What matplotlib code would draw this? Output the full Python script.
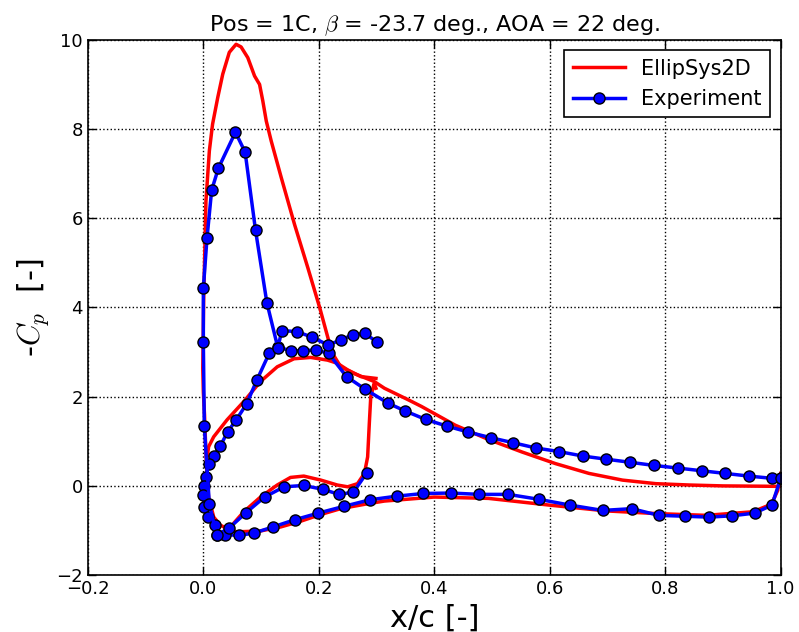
import numpy as np
import matplotlib
matplotlib.use('Agg')
from matplotlib import pyplot as plt

plt.rcParams['mathtext.fontset'] = 'cm'
plt.rcParams['xtick.direction'] = 'in'
plt.rcParams['ytick.direction'] = 'in'
plt.rcParams['xtick.top'] = True
plt.rcParams['ytick.right'] = True

# EllipSys2D, main element upper surface (LE, suction peak, down to trailing edge)
cfd_up_x = [0.006, 0.004, 0.002, 0.0, -0.001, 0.0005, 0.0045, 0.0104, 0.016, 0.025, 0.0336,
            0.045, 0.0567, 0.0654, 0.077, 0.0887, 0.0974, 0.103, 0.109, 0.1176, 0.135,
            0.158, 0.181, 0.2017, 0.216, 0.2237, 0.238, 0.261, 0.296, 0.3136, 0.355,
            0.378, 0.4365, 0.494, 0.552, 0.610, 0.668, 0.726, 0.784, 0.842, 0.9, 0.998]
cfd_up_y = [0.28, 0.9, 1.6, 2.1, 2.64, 4.13, 6.38, 7.51, 8.11, 8.71, 9.23,
            9.72, 9.90, 9.84, 9.60, 9.19, 9.00, 8.63, 8.18, 7.73, 6.91,
            5.86, 4.89, 3.99, 3.31, 2.97, 2.67, 2.52, 2.34, 2.19, 1.93,
            1.78, 1.36, 1.04, 0.76, 0.50, 0.28, 0.13, 0.05, 0.02, 0.0, -0.01]

# EllipSys2D, forward element loop (trailing edge -> upper -> LE -> lower -> TE)
cfd_loop_x = [0.299, 0.273, 0.250, 0.232, 0.215, 0.186, 0.157, 0.128, 0.099, 0.070,
              0.041, 0.0179, 0.0092, 0.006, 0.006, 0.009, 0.018, 0.0296, 0.041, 0.047,
              0.070, 0.099, 0.128, 0.151, 0.174, 0.2035, 0.232, 0.250, 0.267, 0.279,
              0.2846, 0.2875, 0.290, 0.296, 0.299]
cfd_loop_y = [2.41, 2.45, 2.60, 2.75, 2.82, 2.88, 2.85, 2.67, 2.34, 1.89,
              1.48, 1.10, 0.88, 0.6, 0.28, -0.25, -0.70, -0.88, -0.96, -0.92,
              -0.58, -0.25, 0.02, 0.19, 0.22, 0.13, 0.02, -0.02, 0.05, 0.28,
              0.65, 1.40, 2.0, 2.30, 2.19]

# EllipSys2D, main element lower surface
cfd_lo_x = [0.041, 0.058, 0.099, 0.134, 0.169, 0.2035, 0.238, 0.2846, 0.3136, 0.40,
            0.494, 0.599, 0.697, 0.784, 0.871, 0.952, 0.984, 0.995, 1.0]
cfd_lo_y = [-0.96, -1.03, -1.01, -0.92, -0.79, -0.64, -0.51, -0.40, -0.34, -0.25,
            -0.28, -0.43, -0.56, -0.62, -0.66, -0.58, -0.41, -0.1, 0.28]

# Experiment, main element (upper TE -> LE -> lower TE)
exp_main_x = [1.0, 0.985, 0.945, 0.904, 0.863, 0.822, 0.780, 0.739, 0.697, 0.657, 0.616,
              0.576, 0.536, 0.498, 0.458, 0.422, 0.385, 0.3496, 0.3205, 0.280, 0.248, 0.217,
              0.195, 0.173, 0.151, 0.130, 0.114, 0.093, 0.075, 0.057, 0.042, 0.0296, 0.018,
              0.009, 0.0045, 0.0005, 0.0, 0.0017, 0.0087, 0.021, 0.023, 0.038, 0.061, 0.087,
              0.1205, 0.158, 0.199, 0.243, 0.289, 0.335, 0.381, 0.429, 0.478, 0.528, 0.581,
              0.635, 0.692, 0.742, 0.789, 0.834, 0.876, 0.916, 0.955, 0.985, 1.0]
exp_main_y = [0.17, 0.17, 0.22, 0.28, 0.34, 0.40, 0.46, 0.53, 0.60, 0.67, 0.77,
              0.85, 0.97, 1.08, 1.21, 1.34, 1.49, 1.68, 1.85, 2.17, 2.45, 2.97,
              3.05, 3.03, 3.03, 3.11, 2.97, 2.38, 1.84, 1.48, 1.21, 0.90, 0.67,
              0.48, 0.20, 0.0, -0.21, -0.47, -0.70, -0.88, -1.11, -1.09, -1.11, -1.06,
              -0.92, -0.76, -0.61, -0.46, -0.31, -0.23, -0.17, -0.16, -0.19, -0.19, -0.30,
              -0.43, -0.55, -0.51, -0.66, -0.68, -0.70, -0.67, -0.61, -0.43, 0.17]

# Experiment, forward element (lower TE -> LE -> upper TE)
exp_fwd_x = [0.283, 0.260, 0.235, 0.208, 0.174, 0.140, 0.106, 0.074, 0.045, 0.023,
             0.0104, 0.0017, 0.0, 0.0, 0.0063, 0.0144, 0.026, 0.0556, 0.0724, 0.0904,
             0.110, 0.129, 0.136, 0.162, 0.189, 0.216, 0.238, 0.259, 0.280, 0.300]
exp_fwd_y = [0.29, -0.14, -0.19, -0.08, 0.01, -0.02, -0.25, -0.60, -0.94, -1.11,
             -0.41, 1.34, 3.22, 4.43, 5.55, 6.63, 7.12, 7.93, 7.48, 5.73,
             4.11, 3.10, 3.48, 3.46, 3.33, 3.16, 3.27, 3.39, 3.42, 3.23]

fig = plt.figure(figsize=(7.99, 6.32), dpi=100)
ax = fig.add_axes([0.110, 0.090, 0.867, 0.847])

ax.plot(cfd_up_x, cfd_up_y, 'r-', linewidth=2.5, label='EllipSys2D')
ax.plot(cfd_loop_x, cfd_loop_y, 'r-', linewidth=2.5)
ax.plot(cfd_lo_x, cfd_lo_y, 'r-', linewidth=2.5)

mk = dict(color='b', linewidth=2.5, marker='o', markersize=8,
          markerfacecolor='b', markeredgecolor='k', markeredgewidth=1)
ax.plot(exp_main_x, exp_main_y, label='Experiment', **mk)
ax.plot(exp_fwd_x, exp_fwd_y, **mk)

ax.set_xlim(-0.2, 1.0)
ax.set_ylim(-2, 10)
ax.set_xticks(np.arange(-0.2, 1.01, 0.2))
ax.set_yticks(np.arange(-2, 10.1, 2))
ax.tick_params(labelsize=13, length=6, width=1)
for s in ax.spines.values():
    s.set_linewidth(1.2)
ax.grid(True, color='k', linestyle=':', linewidth=1)

ax.set_xlabel('x/c [-]', fontsize=22)
ax.set_ylabel(r'-$C_p$  [-]', fontsize=22)
ax.set_title(r'Pos = 1C, $\beta$ = -23.7 deg., AOA = 22 deg.', fontsize=16)

leg = ax.legend(loc='upper right', fontsize=15, fancybox=False, framealpha=1,
                edgecolor='k', handlelength=2.5)
leg.get_frame().set_linewidth(1.2)

fig.savefig('out.png', dpi=100)
